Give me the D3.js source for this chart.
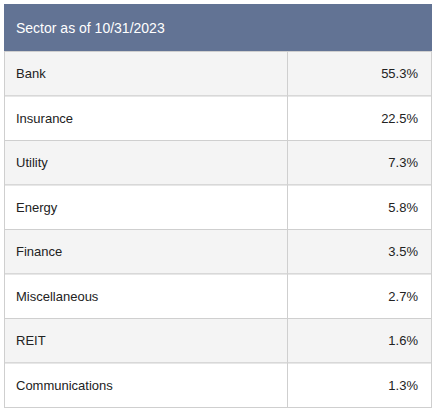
<!DOCTYPE html>
<html><head><meta charset="utf-8">
<script src="https://cdn.jsdelivr.net/npm/d3@7"></script>
<style>body{margin:0;background:#fff;font-family:"Liberation Sans",Arial,sans-serif;}</style>
</head><body>
<svg id="chart" width="442" height="415"></svg>
<script>
const title = "Sector as of 10/31/2023";
const sectors = ["Bank","Insurance","Utility","Energy","Finance","Miscellaneous","REIT","Communications"];
const weights = [55.3,22.5,7.3,5.8,3.5,2.7,1.6,1.3];

const svg = d3.select("#chart");
const left = 4, right = 432, divX = 287, headTop = 4, headBottom = 51, bottom = 407;

const y = d3.scaleBand().domain(sectors).range([headBottom, bottom]);

svg.append("rect").attr("x", left).attr("y", headTop)
  .attr("width", right - left).attr("height", headBottom - headTop).attr("fill", "#627394");
svg.append("text").attr("x", 16).attr("y", (headTop + headBottom) / 2 + 5)
  .attr("fill", "#fff").attr("font-size", 14).text(title);

const rows = svg.selectAll(".row").data(sectors).enter().append("g")
  .attr("transform", d => `translate(0,${y(d)})`);

rows.append("rect").attr("x", left + 0.5).attr("y", 0.5)
  .attr("width", right - left - 1).attr("height", y.bandwidth())
  .attr("fill", (d, i) => i % 2 === 0 ? "#f4f4f4" : "#fff")
  .attr("stroke", "#cfcfcf");
rows.append("line").attr("x1", divX + 0.5).attr("x2", divX + 0.5)
  .attr("y1", 0).attr("y2", y.bandwidth()).attr("stroke", "#cfcfcf");
rows.append("text").attr("x", 16).attr("y", y.bandwidth() / 2 + 5)
  .attr("font-size", 13).attr("fill", "#222").text(d => d);
rows.append("text").attr("x", 418).attr("y", y.bandwidth() / 2 + 5)
  .attr("text-anchor", "end").attr("font-size", 13).attr("fill", "#222")
  .text((d, i) => weights[i].toFixed(1) + "%");
</script>
</body></html>
